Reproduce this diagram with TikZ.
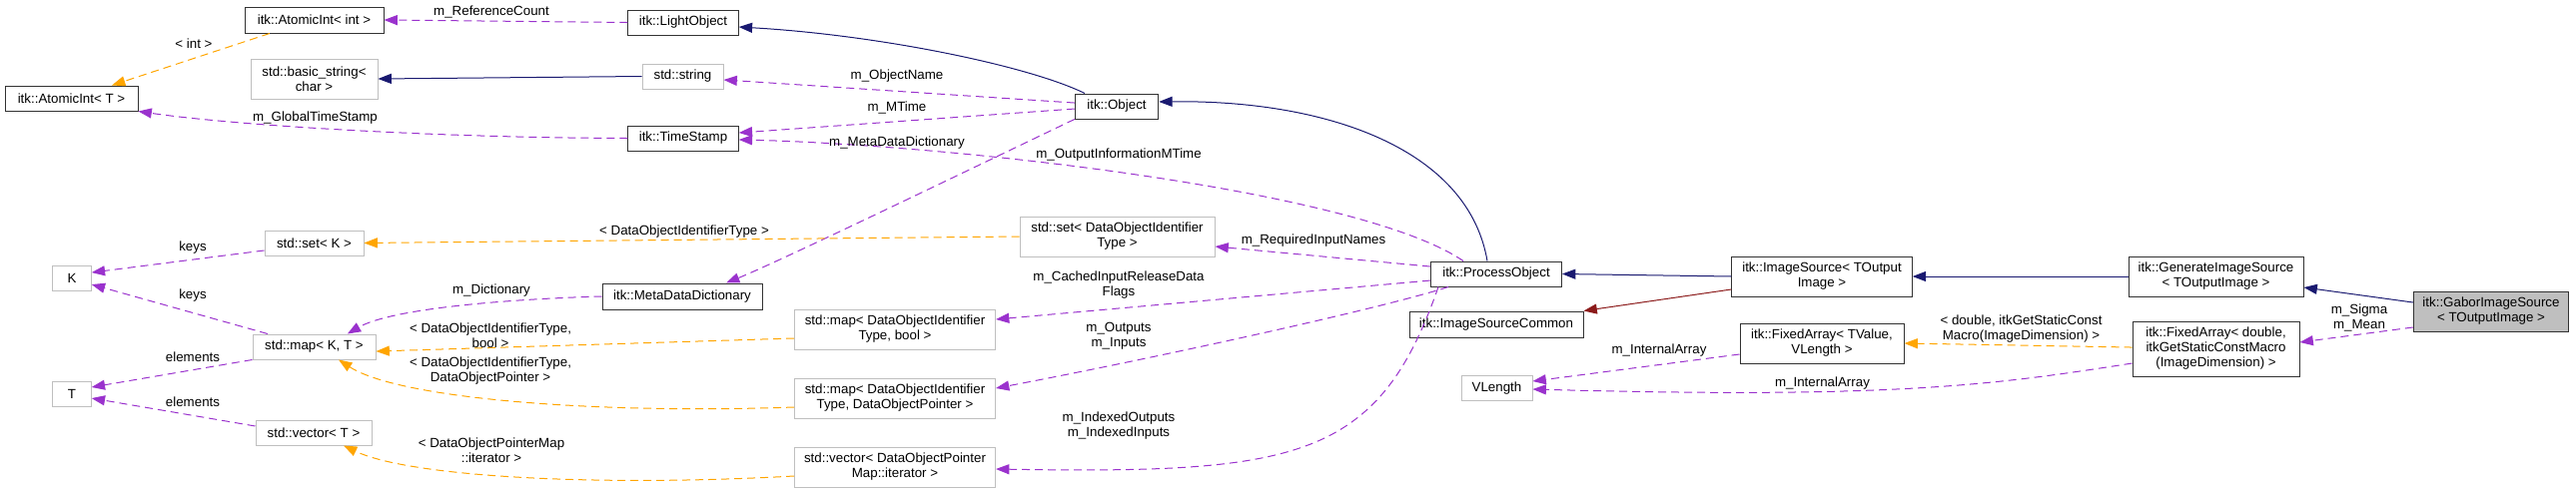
\documentclass[tikz,border=0pt]{standalone}
\usepackage{fontspec}
\setmainfont{Liberation Sans}
\usetikzlibrary{arrows.meta}
\definecolor{usecol}{HTML}{9A32CD}
\definecolor{tplcol}{HTML}{FFA500}
\definecolor{inhcol}{HTML}{191970}
\definecolor{protcol}{HTML}{8B1A1A}
\definecolor{graybd}{HTML}{BFBFBF}
\begin{document}
\begin{tikzpicture}[x=0.75pt,y=-0.75pt,
  sz/.style 2 args={minimum width=#1*0.75pt, minimum height=#2*0.75pt},
  basebox/.style={rectangle, align=center, inner xsep=1pt, inner ysep=0pt, fill=white, line width=0.75pt, font=\fontsize{10}{11.25}\selectfont},
  cls/.style={basebox, draw=black!80},
  ext/.style={basebox, draw=graybd},
  self/.style={basebox, draw=black!80, fill=graybd},
  lbl/.style={align=center, inner sep=0pt, font=\fontsize{10}{11.25}\selectfont},
  tip/.style={-{Triangle[length=10pt,width=7.5pt]}},
  usedge/.style={tip, draw=usecol, line width=0.75pt, dash pattern=on 6pt off 3.75pt},
  tpledge/.style={tip, draw=tplcol, line width=0.75pt, dash pattern=on 6pt off 3.75pt},
  inhedge/.style={tip, draw=inhcol, line width=0.75pt},
  protedge/.style={tip, draw=protcol, line width=0.75pt}
]
\useasboundingbox (0,0) rectangle (2579,493);

% nodes
\node[cls, sz={139}{26}] (aint) at (314.5,20) {itk::AtomicInt< int >};
\node[cls, sz={133}{25}] (aT) at (71.5,98.5) {itk::AtomicInt< T >};
\node[ext, sz={127}{40}] (bstr) at (314.5,79) {std::basic\_string<\\ char >};
\node[cls, sz={110.5}{25}] (light) at (684,22.5) {itk::LightObject};
\node[ext, sz={81}{25}] (str) at (683.5,76.5) {std::string};
\node[cls, sz={110.5}{25}] (ts) at (684,138.5) {itk::TimeStamp};
\node[cls, sz={83.5}{25}] (obj) at (1118,106.5) {itk::Object};
\node[ext, sz={99}{25}] (setK) at (314.5,243.5) {std::set< K >};
\node[ext, sz={38.5}{25}] (K) at (72,278.5) {K};
\node[ext, sz={123}{25}] (mapKT) at (314.5,347.5) {std::map< K, T >};
\node[ext, sz={38.5}{25}] (T) at (72,394.5) {T};
\node[ext, sz={116}{25}] (vecT) at (314,433.5) {std::vector< T >};
\node[cls, sz={160}{26}] (mdd) at (683,297) {itk::MetaDataDictionary};
\node[ext, sz={195}{40}] (setDOIT) at (1118.5,237) {std::set< DataObjectIdentifier\\ Type >};
\node[ext, sz={201}{40}] (mapBool) at (896,330) {std::map< DataObjectIdentifier\\ Type, bool >};
\node[ext, sz={201}{40}] (mapDOP) at (896,399) {std::map< DataObjectIdentifier\\ Type, DataObjectPointer >};
\node[ext, sz={201}{40}] (vecIt) at (896,468) {std::vector< DataObjectPointer\\ Map::iterator >};
\node[cls, sz={131}{25}] (po) at (1498,274.5) {itk::ProcessObject};
\node[cls, sz={174}{26}] (isc) at (1498,325) {itk::ImageSourceCommon};
\node[cls, sz={180.5}{40}] (is) at (1824,277) {itk::ImageSource< TOutput\\ Image >};
\node[cls, sz={164}{40}] (faV) at (1824,344) {itk::FixedArray< TValue,\\ VLength >};
\node[ext, sz={71}{25}] (VL) at (1498.5,389) {VLength};
\node[cls, sz={175}{40}] (gis) at (2218.5,277) {itk::GenerateImageSource\\ < TOutputImage >};
\node[self, sz={155.5}{40}] (gabor) at (2494,312) {itk::GaborImageSource\\ < TOutputImage >};
\node[cls, sz={167}{55}] (faD) at (2218.5,349.5) {itk::FixedArray< double,\\ itkGetStaticConstMacro\\ (ImageDimension) >};

% edges
\draw[usedge] (light.west) -- (aint.east);
\draw[tpledge] ([xshift=-33.4pt]aint.south) -- ([xshift=30.4pt]aT.north);
\draw[inhedge] (str.west) -- (bstr.east);
\draw[usedge] (ts.west) .. controls (430,138) and (230,125) .. (aT.south east);
\draw[inhedge] ([xshift=-24pt]obj.north) .. controls (1030,66) and (880,35) .. ([yshift=-3.4pt]light.east);
\draw[usedge] ([yshift=2.6pt]obj.west) -- ([yshift=-2.6pt]str.east);
\draw[usedge] ([yshift=-1.9pt]obj.west) -- ([yshift=4.1pt]ts.east);
\draw[usedge] (obj.south west) .. controls (960,175) and (780,262) .. ([xshift=33pt]mdd.north);
\draw[inhedge] ([xshift=-6.75pt]po.north) .. controls (1470,150) and (1330,100) .. ([yshift=3.4pt]obj.east);
\draw[usedge] ([xshift=-24.75pt]po.north) .. controls (1360,190) and (950,145) .. ([yshift=-1.1pt]ts.east);
\draw[usedge] ([yshift=5.6pt]po.west) -- ([yshift=-7.5pt]setDOIT.east);
\draw[usedge] ([yshift=-4.9pt]po.west) -- ([yshift=7.5pt]mapBool.east);
\draw[usedge] ([xshift=-36pt]po.south) .. controls (1380,310) and (1150,360) .. ([yshift=7.5pt]mapDOP.east);
\draw[usedge] ([xshift=-43.5pt]po.south) .. controls (1380,460) and (1300,475) .. ([yshift=-1.5pt]vecIt.east);
\draw[usedge] (mdd.west) .. controls (500,300) and (390,310) .. ([xshift=25pt]mapKT.north);
\draw[tpledge] (setDOIT.west) -- (setK.east);
\draw[usedge] ([yshift=-5.6pt]setK.west) -- ([yshift=4.1pt]K.east);
\draw[usedge] ([xshift=-34.9pt]mapKT.north) -- ([yshift=-4.9pt]K.east);
\draw[usedge] (mapKT.south west) -- ([yshift=4.9pt]T.east);
\draw[usedge] ([yshift=4.9pt]vecT.west) -- ([yshift=-3.4pt]T.east);
\draw[tpledge] ([yshift=-6.75pt]mapBool.west) -- ([yshift=-3.4pt]mapKT.east);
\draw[tpledge] ([yshift=-6.75pt]mapDOP.west) .. controls (600,415) and (400,400) .. ([xshift=18.4pt]mapKT.south);
\draw[tpledge] ([yshift=-6.75pt]vecIt.west) .. controls (600,488) and (410,478) .. ([xshift=22.5pt]vecT.south);
\draw[inhedge] (is.west) -- (po.east);
\draw[protedge] ([yshift=-9.75pt]is.west) -- (isc.north east);
\draw[inhedge] (gis.west) -- (is.east);
\draw[inhedge] ([yshift=6.75pt]gabor.west) -- ([yshift=-8.25pt]gis.east);
\draw[usedge] ([yshift=-12pt]gabor.west) -- ([yshift=4.9pt]faD.east);
\draw[tpledge] ([yshift=1.1pt]faD.west) -- (faV.east);
\draw[usedge] ([yshift=-8.25pt]faV.west) -- ([yshift=5.25pt]VL.east);
\draw[usedge] ([yshift=-10.9pt]faD.west) .. controls (2000,385) and (1900,400) .. ([yshift=-0.75pt]VL.east);

% labels
\node[lbl] (l1) at (492,12) {m\_ReferenceCount};
\node[lbl] (l2) at (194,44) {< int >};
\node[lbl] (l3) at (315.5,118) {m\_GlobalTimeStamp};
\node[lbl] (l4) at (898,76) {m\_ObjectName};
\node[lbl] (l5) at (898,108) {m\_MTime};
\node[lbl] (l6) at (898,143) {m\_MetaDataDictionary};
\node[lbl] (l7) at (1120,155) {m\_OutputInformationMTime};
\node[lbl] (l8) at (685,232) {< DataObjectIdentifierType >};
\node[lbl] (l9) at (193,248) {keys};
\node[lbl] (l10) at (193,296) {keys};
\node[lbl] (l11) at (492,291) {m\_Dictionary};
\node[lbl] (l12) at (491,336.5) {< DataObjectIdentifierType,\\ bool >};
\node[lbl] (l13) at (193,358) {elements};
\node[lbl] (l14) at (193,403) {elements};
\node[lbl] (l15) at (491,372) {< DataObjectIdentifierType,\\ DataObjectPointer >};
\node[lbl] (l16) at (492,451) {< DataObjectPointerMap\\ ::iterator >};
\node[lbl] (l17) at (1315,241) {m\_RequiredInputNames};
\node[lbl] (l18) at (1120,285.5) {m\_CachedInputReleaseData\\ Flags};
\node[lbl] (l19) at (1120,336.5) {m\_Outputs\\ m\_Inputs};
\node[lbl] (l20) at (1120,427) {m\_IndexedOutputs\\ m\_IndexedInputs};
\node[lbl] (l21) at (1661,351) {m\_InternalArray};
\node[lbl] (l22) at (1824.5,384) {m\_InternalArray};
\node[lbl] (l23) at (2023.5,329.5) {< double, itkGetStaticConst\\ Macro(ImageDimension) >};
\node[lbl] (l24) at (2362,318) {m\_Sigma\\ m\_Mean};
\end{tikzpicture}
\end{document}
